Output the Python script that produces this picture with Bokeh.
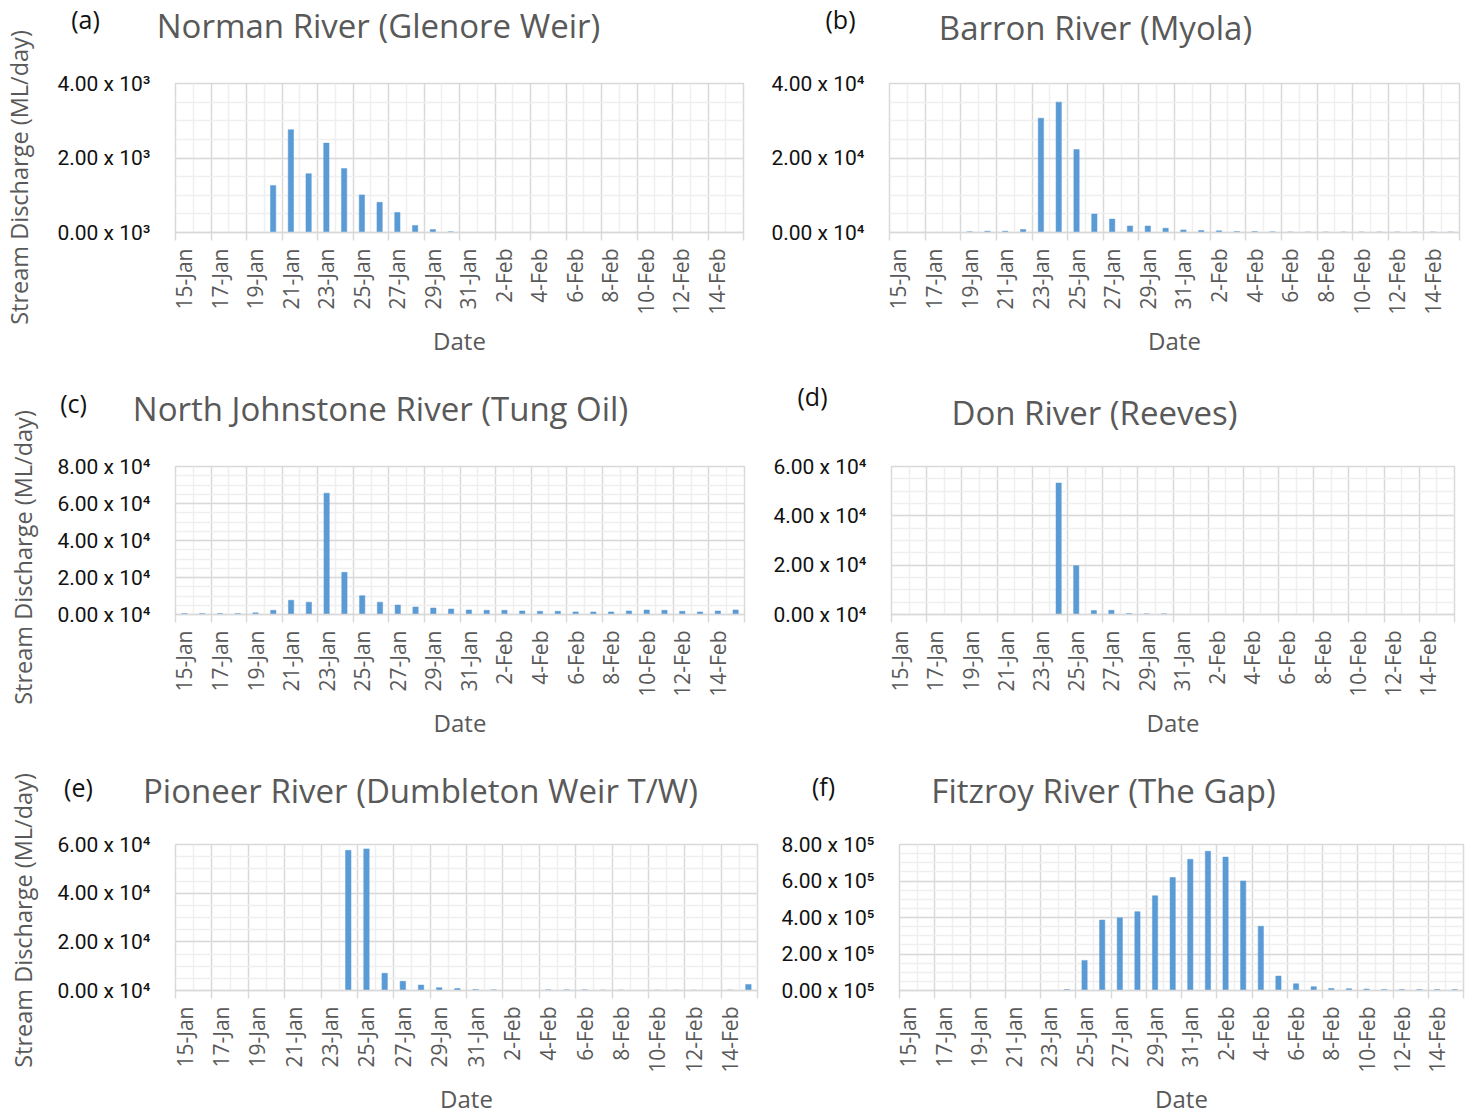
import math

from bokeh.embed import file_html
from bokeh.layouts import column, row
from bokeh.models import FixedTicker, Grid, Label, LinearAxis, Range1d
from bokeh.plotting import figure
from bokeh.resources import INLINE

# Daily dates on the category axis (15 Jan - 15 Feb)
dates = [
    "15-Jan", "16-Jan", "17-Jan", "18-Jan", "19-Jan", "20-Jan", "21-Jan", "22-Jan",
    "23-Jan", "24-Jan", "25-Jan", "26-Jan", "27-Jan", "28-Jan", "29-Jan", "30-Jan",
    "31-Jan", "1-Feb", "2-Feb", "3-Feb", "4-Feb", "5-Feb", "6-Feb", "7-Feb",
    "8-Feb", "9-Feb", "10-Feb", "11-Feb", "12-Feb", "13-Feb", "14-Feb", "15-Feb",
]

# Daily stream discharge (ML/day)
norman = [0, 0, 0, 0, 0, 1260, 2760, 1580, 2400, 1720, 1010, 810, 540, 190, 80, 20,
          0, 0, 0, 0, 0, 0, 0, 0, 0, 0, 0, 0, 0, 0, 0, 0]
barron = [0, 0, 0, 0, 200, 350, 350, 800, 30700, 35000, 22250, 4950, 3600, 1750, 1750, 1150,
          700, 530, 440, 265, 265, 180, 150, 150, 150, 150, 150, 150, 150, 150, 150, 150]
johnstone = [530, 530, 530, 530, 880, 2280, 7720, 6670, 65600, 22800, 10200, 6670, 5090, 4040, 3510, 2980,
             2460, 2280, 2280, 1930, 1750, 1750, 1400, 1400, 1400, 1930, 2460, 2280, 1750, 1400, 1930, 2460]
don = [0, 0, 0, 0, 0, 0, 0, 0, 0, 53300, 19800, 1580, 1710, 390, 260, 260,
       0, 0, 0, 0, 0, 0, 0, 0, 0, 0, 0, 0, 0, 0, 0, 0]
pioneer = [0, 0, 0, 0, 0, 0, 0, 0, 0, 57600, 58200, 7100, 3800, 2240, 1180, 790,
           400, 260, 0, 0, 260, 260, 260, 200, 200, 0, 150, 150, 150, 0, 200, 2500]
fitzroy = [0, 0, 0, 0, 0, 0, 0, 0, 0, 5000, 165000, 386000, 398000, 432000, 519000, 619000,
           719000, 763000, 731000, 600000, 352000, 79000, 37000, 21000, 10500, 10000, 8000, 6000,
           5000, 5000, 5000, 5000]

SUPERSCRIPT = {3: "\u00b3", 4: "\u2074", 5: "\u2075"}

GREY = "#595959"
INK = "#111111"
BAR = "#5b9bd5"
MAJOR_GRID = "#d9d9d9"
MINOR_GRID = "#efefef"

PAGE_W = 1472
STRIP_W = 45          # column holding the rotated y-axis caption
WL = 762              # left chart column ends here
WR = PAGE_W - WL


def chart(values, ymax, major, minor, exp, box, frame):
    """Bar chart whose figure occupies `box` (x0, y0, w, h) and whose frame is `frame`
    (left, right, top, bottom), both in page pixels."""
    x0, y0, w, h = box
    fl, fr, ft, fb = frame
    p = figure(
        width=w, height=h,
        x_range=Range1d(0, len(dates)), y_range=Range1d(0, ymax),
        output_backend="svg", toolbar_location=None,
        min_border_left=fl - x0, min_border_right=x0 + w - fr,
        min_border_top=ft - y0, min_border_bottom=y0 + h - fb,
        x_axis_type=None, y_axis_type=None,
    )
    p.outline_line_color = MAJOR_GRID
    p.outline_line_width = 1.5
    p.background_fill_color = "white"
    p.border_fill_color = "white"

    xs = [i + 0.5 for i in range(len(dates))]
    p.vbar(x=xs, top=values, width=0.3, bottom=0,
           fill_color=BAR, line_color=BAR, line_width=0.5)

    # x axis: a label on every second day, tick marks on the day boundaries
    xaxis = LinearAxis(
        ticker=FixedTicker(ticks=xs[::2], minor_ticks=list(range(0, len(dates) + 1, 2))),
        major_label_overrides={x: d for x, d in zip(xs[::2], dates[::2])},
        major_label_orientation=math.pi / 2,
        major_label_text_font="Open Sans",
        major_label_text_font_size="21px",
        major_label_text_color=GREY,
        major_label_standoff=8,
        major_tick_in=0, major_tick_out=0,
        minor_tick_in=0, minor_tick_out=8,
        minor_tick_line_color=MAJOR_GRID, minor_tick_line_width=1.5,
        axis_line_color=MAJOR_GRID, axis_line_width=1.5,
        axis_label="Date",
        axis_label_text_font="Open Sans",
        axis_label_text_font_size="24px",
        axis_label_text_font_style="normal",
        axis_label_text_color=GREY,
        axis_label_standoff=6,
    )
    p.add_layout(xaxis, "below")

    yticks = [k * major for k in range(int(round(ymax / major)) + 1)]
    yaxis = LinearAxis(
        ticker=FixedTicker(ticks=yticks),
        major_label_overrides={v: f"{v / 10 ** exp:.2f} x 10{SUPERSCRIPT[exp]}" for v in yticks},
        major_label_text_font="Roboto",
        major_label_text_font_size="21px",
        major_label_text_color=INK,
        major_label_standoff=25,
        major_tick_in=0, major_tick_out=0,
        minor_tick_in=0, minor_tick_out=0,
        axis_line_color=None,
    )
    p.add_layout(yaxis, "left")

    # gridlines: darker every second day / major value, lighter in between
    p.add_layout(Grid(
        dimension=0,
        ticker=FixedTicker(ticks=list(range(0, len(dates) + 1, 2)),
                           minor_ticks=list(range(1, len(dates), 2))),
        grid_line_color=MAJOR_GRID, grid_line_width=1.5,
        minor_grid_line_color=MINOR_GRID, minor_grid_line_width=1.5,
        level="underlay",
    ))
    p.add_layout(Grid(
        dimension=1,
        ticker=FixedTicker(ticks=yticks,
                           minor_ticks=[k * minor for k in range(int(round(ymax / minor)) + 1)]),
        grid_line_color=MAJOR_GRID, grid_line_width=1.5,
        minor_grid_line_color=MINOR_GRID, minor_grid_line_width=1.5,
        level="underlay",
    ))
    return p


def text_band(box, items):
    """Blank canvas holding captions; items are (text, page_x, page_y, size, colour, angle)."""
    x0, y0, w, h = box
    f = figure(
        width=w, height=h, x_range=Range1d(0, w), y_range=Range1d(h, 0),
        output_backend="svg", toolbar_location=None,
        min_border=0, x_axis_type=None, y_axis_type=None,
    )
    f.outline_line_color = None
    f.background_fill_color = "white"
    f.border_fill_color = "white"
    for text, px, py, size, colour, angle in items:
        f.add_layout(Label(
            x=px - x0, y=py - y0, text=text, angle=angle,
            text_font="Open Sans",
            text_font_size=size, text_color=colour,
            text_align="center", text_baseline="middle",
        ))
    return f


YLABEL = "Stream Discharge (ML/day)"
TITLE = "33px"
TAG = "25px"
CAPTION = "23.5px"
rows = []

# row 1: (a) and (b)
top, height, head = 0, 365, 50
rows.append(row(
    text_band((0, top, STRIP_W, height), [(YLABEL, 18, 177, CAPTION, GREY, math.pi / 2)]),
    column(
        text_band((STRIP_W, top, PAGE_W - STRIP_W, head), [
            ("(a)", 85, 18, TAG, INK, 0),
            ("Norman River (Glenore Weir)", 378, 25, TITLE, GREY, 0),
            ("(b)", 840, 18, TAG, INK, 0),
            ("Barron River (Myola)", 1095, 27, TITLE, GREY, 0),
        ]),
        row(
            chart(norman, 4000, 2000, 500, 3,
                  (STRIP_W, top + head, WL - STRIP_W, height - head), (175, 743, 80, 232)),
            chart(barron, 40000, 20000, 5000, 4,
                  (WL, top + head, WR, height - head), (889, 1459, 83, 234)),
        ),
    ),
))

# row 2: (c) and (d)
top, height, head = 365, 380, 70
rows.append(row(
    text_band((0, top, STRIP_W, height), [(YLABEL, 22, 557, CAPTION, GREY, math.pi / 2)]),
    column(
        text_band((STRIP_W, top, PAGE_W - STRIP_W, head), [
            ("(c)", 73, 402, TAG, INK, 0),
            ("North Johnstone River (Tung Oil)", 380, 408, TITLE, GREY, 0),
            ("(d)", 812, 395, TAG, INK, 0),
            ("Don River (Reeves)", 1094, 412, TITLE, GREY, 0),
        ]),
        row(
            chart(johnstone, 80000, 20000, 5000, 4,
                  (STRIP_W, top + head, WL - STRIP_W, height - head), (175, 744, 462, 614)),
            chart(don, 60000, 20000, 5000, 4,
                  (WL, top + head, WR, height - head), (891, 1454, 466, 618)),
        ),
    ),
))

# row 3: (e) and (f)
top, height, head = 745, 372, 70
rows.append(row(
    text_band((0, top, STRIP_W, height), [(YLABEL, 22, 920, CAPTION, GREY, math.pi / 2)]),
    column(
        text_band((STRIP_W, top, PAGE_W - STRIP_W, head), [
            ("(e)", 78, 786, TAG, INK, 0),
            ("Pioneer River (Dumbleton Weir T/W)", 420, 790, TITLE, GREY, 0),
            ("(f)", 823, 785, TAG, INK, 0),
            ("Fitzroy River (The Gap)", 1103, 790, TITLE, GREY, 0),
        ]),
        row(
            chart(pioneer, 60000, 20000, 5000, 4,
                  (STRIP_W, top + head, WL - STRIP_W, height - head), (175, 757, 844, 996)),
            chart(fitzroy, 800000, 200000, 50000, 5,
                  (WL, top + head, WR, height - head), (899, 1463, 844, 996)),
        ),
    ),
))

layout = column(*rows)

with open("out.html", "w") as f:
    f.write(file_html(layout, INLINE))
